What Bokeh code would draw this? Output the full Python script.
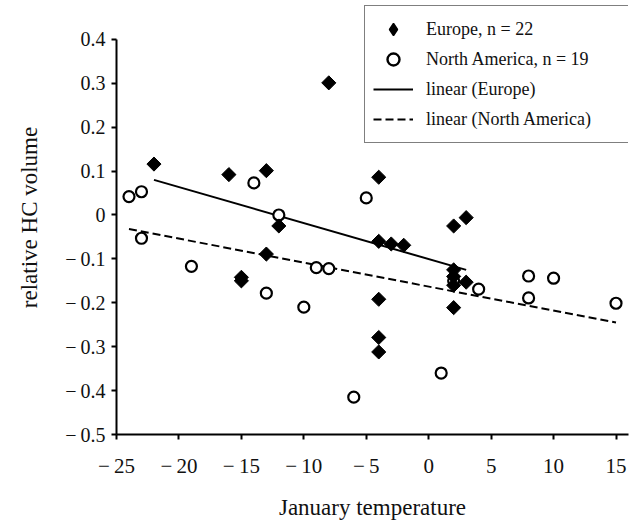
from bokeh.plotting import figure
from bokeh.models import (Range1d, FixedTicker, CustomJSTickFormatter, Legend, LegendItem)
from bokeh.embed import file_html
from bokeh.resources import INLINE

# Europe (filled diamonds)
eu_temp = [-22, -16, -13, -8, -4, -12, -13, -15, -15, -4, -3, -2, -4, -4, -4,
           2, 3, 2, 2, 2, 3, 2]
eu_hc = [0.116, 0.092, 0.101, 0.301, 0.086, -0.025, -0.089, -0.142, -0.150,
         -0.060, -0.066, -0.069, -0.192, -0.279, -0.312,
         -0.025, -0.006, -0.125, -0.140, -0.160, -0.153, -0.211]

# North America (open circles)
na_temp = [-24, -23, -23, -19, -14, -12, -13, -10, -9, -8, -5, -6, 1, 4, 8, 8,
           10, 15, 2]
na_hc = [0.042, 0.053, -0.053, -0.117, 0.073, 0.000, -0.178, -0.210, -0.120,
         -0.122, 0.039, -0.415, -0.360, -0.169, -0.139, -0.189, -0.144, -0.201,
         -0.150]

# linear fits (end points)
eu_fit_x = [-22, 3]
eu_fit_y = [0.080, -0.125]
na_fit_x = [-24, 15]
na_fit_y = [-0.032, -0.245]

x_ticks = [-25, -20, -15, -10, -5, 0, 5, 10, 15]
y_ticks = [-0.5, -0.4, -0.3, -0.2, -0.1, 0.0, 0.1, 0.2, 0.3, 0.4]

FONT = "Liberation Serif"

p = figure(width=630, height=522, output_backend="svg", toolbar_location=None,
           x_range=Range1d(-25, 16), y_range=Range1d(-0.5, 0.4886),
           min_border_left=116, min_border_right=2, min_border_top=0,
           min_border_bottom=87)
p.outline_line_color = None
p.xgrid.visible = False
p.ygrid.visible = False
p.background_fill_color = "white"
p.border_fill_color = "white"

for ax in (p.xaxis[0], p.yaxis[0]):
    ax.axis_line_width = 2
    ax.axis_line_color = "black"
    ax.major_tick_line_width = 2
    ax.major_tick_line_color = "black"
    ax.major_tick_out = 5
    ax.major_tick_in = 0
    ax.minor_tick_line_color = None
    ax.major_label_text_font = FONT
    ax.major_label_text_color = "#111111"
    ax.axis_label_text_font = FONT
    ax.axis_label_text_font_style = "normal"
    ax.axis_label_text_color = "#111111"

p.xaxis.ticker = FixedTicker(ticks=x_ticks)
p.yaxis.ticker = FixedTicker(ticks=y_ticks)
p.xaxis.bounds = (-25, 16)
p.yaxis.bounds = (-0.5, 0.4)
p.xaxis.formatter = CustomJSTickFormatter(code="""
const v = Math.round(tick);
if (v === 0) return '0';
return v < 0 ? '\\u2212\\u2009' + Math.abs(v) : '' + v;
""")
p.yaxis.formatter = CustomJSTickFormatter(code="""
const v = Math.round(tick * 10) / 10;
if (Math.abs(v) < 1e-9) return '0';
const s = Math.abs(v).toFixed(1);
return v < 0 ? '\\u2212\\u2009' + s : s;
""")
p.xaxis.major_label_text_font_size = "21px"
p.yaxis.major_label_text_font_size = "20px"
p.xaxis.major_label_standoff = 14
p.yaxis.major_label_standoff = 6
p.xaxis.axis_label = "January temperature"
p.yaxis.axis_label = "relative HC volume"
p.xaxis.axis_label_text_font_size = "23px"
p.yaxis.axis_label_text_font_size = "23px"
p.xaxis.axis_label_standoff = 14
p.yaxis.axis_label_standoff = 20

eu_line = p.line(eu_fit_x, eu_fit_y, line_color="black", line_width=2)
na_line = p.line(na_fit_x, na_fit_y, line_color="black", line_width=2,
                 line_dash="8 4")
na_pts = p.scatter(na_temp, na_hc, marker="circle", size=11, fill_color="white",
                   line_color="black", line_width=2.2)
eu_pts = p.scatter(eu_temp, eu_hc, marker="square", size=10, angle=0.785398,
                   fill_color="black", line_color="black", line_width=1)

# legend keys: same data, hidden in the plot, drawn only in the legend
eu_key = p.scatter(eu_temp, eu_hc, marker="diamond", size=16, fill_color="black",
                   line_color="black", line_width=1.5, visible=False)
na_key = p.scatter(na_temp, na_hc, marker="circle", size=9, fill_color="white",
                   line_color="black", line_width=2.4, visible=False)

legend = Legend(items=[
    LegendItem(label="Europe, n = 22", renderers=[eu_key]),
    LegendItem(label="North America, n = 19", renderers=[na_key]),
    LegendItem(label="linear (Europe)", renderers=[eu_line]),
    LegendItem(label="linear (North America)", renderers=[na_line]),
], location=(248, 291))
legend.click_policy = "none"
legend.inactive_fill_alpha = 0
legend.border_line_color = "black"
legend.border_line_width = 1.5
legend.background_fill_color = "white"
legend.background_fill_alpha = 1
legend.label_text_font = FONT
legend.label_text_font_size = "18px"
legend.label_text_color = "#111111"
legend.glyph_width = 40
legend.glyph_height = 30
legend.label_height = 30
legend.label_width = 194
legend.label_standoff = 13
legend.spacing = 0
legend.padding = 8
legend.margin = 0
p.add_layout(legend, "center")

open("out.html", "w").write(file_html(p, INLINE))
